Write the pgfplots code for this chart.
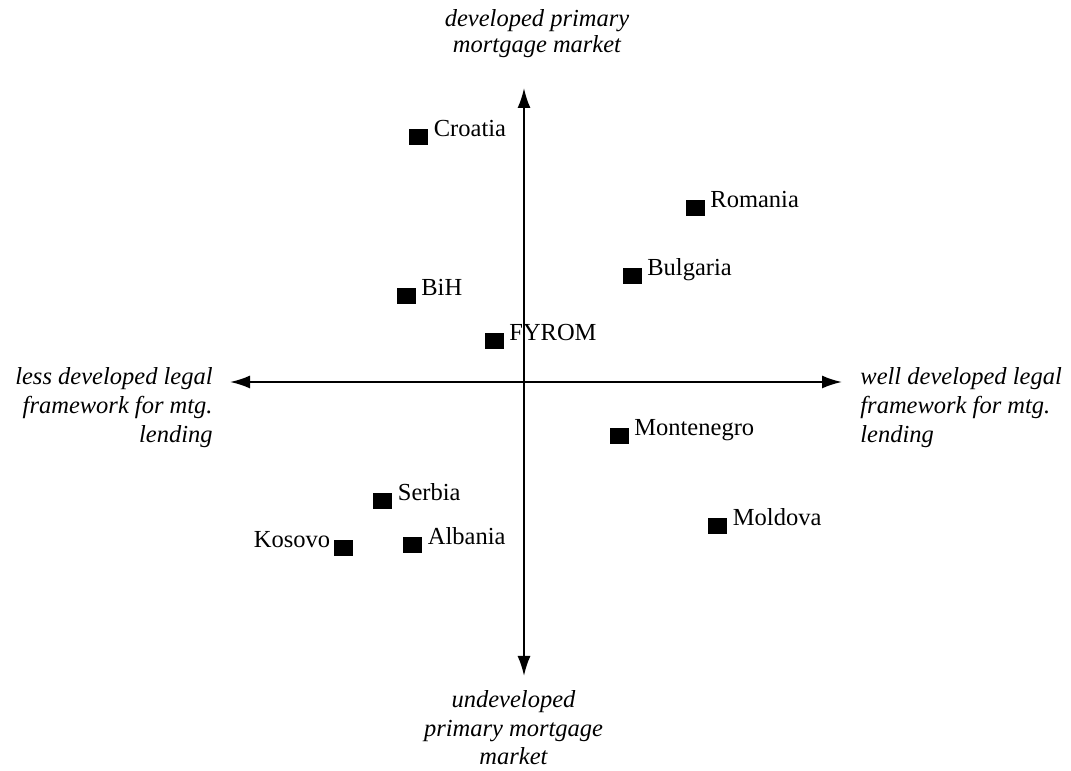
\documentclass[border=0pt]{standalone}
\usepackage{fontspec}
\setmainfont{Liberation Serif}
\usepackage{pgfplots}
\pgfplotsset{compat=1.18}
\usetikzlibrary{arrows.meta}

% positions are in pixels of the original, measured from the crossing of the arrows
\pgfplotstableread{
x      y      label
-105.5 245.5  Croatia
171    174    Romania
108    106    Bulgaria
-118   86.5   BiH
-30    41.5   FYROM
95     -53.5  Montenegro
-141.5 -119   Serbia
193.5  -143.5 Moldova
-111.5 -162.5 Albania
}\rightlabelled
\pgfplotstableread{
x      y      label
-180.5 -165.5 Kosovo
}\leftlabelled

\begin{document}
\begin{tikzpicture}
\begin{axis}[
    width=535.5pt, height=385.5pt,
    scale only axis,
    hide axis,
    clip=false,
    xmin=-524, xmax=547,
    ymin=-389, ymax=382,
    every node/.append style={font=\fontsize{12.25}{14}\selectfont},
]
\path (axis cs:-524,-389) rectangle (axis cs:547,382);

% quadrant arrows
\draw[line width=1pt, {Latex[length=10pt,width=6.5pt]}-{Latex[length=10pt,width=6.5pt]}]
    (axis cs:-294,0) -- (axis cs:318,0);
\draw[line width=1pt, {Latex[length=10pt,width=6.5pt]}-{Latex[length=10pt,width=6.5pt]}]
    (axis cs:0,294) -- (axis cs:0,-294);

\addplot[only marks, mark=square*, mark size=3.75pt,
    mark options={xscale=1.2, fill=black, draw=black},
    nodes near coords, point meta=explicit symbolic,
    nodes near coords style={anchor=base west, inner sep=0pt, xshift=7.5pt,
        font=\fontsize{12.25}{14}\selectfont}]
    table[meta=label] {\rightlabelled};

\addplot[only marks, mark=square*, mark size=3.75pt,
    mark options={xscale=1.2, fill=black, draw=black},
    nodes near coords, point meta=explicit symbolic,
    nodes near coords style={anchor=base east, inner sep=0pt, xshift=-6.5pt,
        font=\fontsize{12.25}{14}\selectfont}]
    table[meta=label] {\leftlabelled};

% axis captions (base anchor = baseline of the last line)
\node[anchor=base, align=center, inner sep=0pt, font=\itshape\fontsize{12.25}{13}\selectfont]
    at (axis cs:13,329) {developed primary\\mortgage market};
\node[anchor=base, align=center, inner sep=0pt, font=\itshape\fontsize{12.25}{14.25}\selectfont]
    at (axis cs:-10.5,-383) {undeveloped\\primary mortgage\\market};
\node[anchor=base east, align=right, inner sep=0pt, font=\itshape\fontsize{12.25}{14.5}\selectfont]
    at (axis cs:-311,-61) {less developed legal\\framework for mtg.\\lending};
\node[anchor=base west, align=left, inner sep=0pt, font=\itshape\fontsize{12.25}{14.5}\selectfont]
    at (axis cs:336,-61) {well developed legal\\framework for mtg.\\lending};
\end{axis}
\end{tikzpicture}
\end{document}
